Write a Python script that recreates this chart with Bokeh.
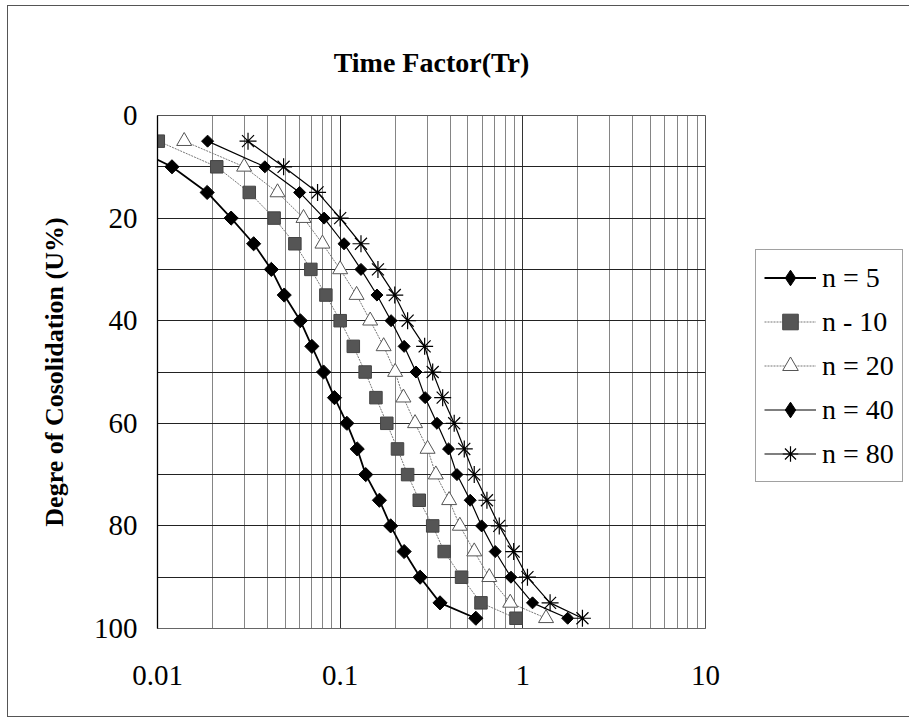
from bokeh.plotting import figure
from bokeh.models import Range1d, FixedTicker, Legend, LegendItem
from bokeh.embed import file_html
from bokeh.resources import INLINE

# ---- data ----
U = [5, 10, 15, 20, 25, 30, 35, 40, 45, 50, 55, 60, 65, 70, 75, 80, 85, 90, 95, 98]
T_n5 = [0.0062, 0.0120, 0.0187, 0.0253, 0.0336, 0.0420, 0.0494, 0.0605, 0.0700, 0.0811,
        0.0931, 0.1088, 0.124, 0.138, 0.164, 0.189, 0.224, 0.274, 0.352, 0.553]
T_n10 = [0.0101, 0.0211, 0.0318, 0.0435, 0.0565, 0.0691, 0.0835, 0.100, 0.118, 0.137,
         0.157, 0.180, 0.206, 0.234, 0.271, 0.321, 0.371, 0.462, 0.590, 0.917]
T_n20 = [0.0140, 0.0298, 0.0454, 0.063, 0.080, 0.100, 0.123, 0.146, 0.173, 0.200,
         0.222, 0.257, 0.301, 0.334, 0.395, 0.452, 0.542, 0.655, 0.853, 1.34]
T_n40 = [0.0188, 0.0387, 0.060, 0.0817, 0.105, 0.130, 0.159, 0.190, 0.224, 0.260,
         0.292, 0.339, 0.392, 0.436, 0.515, 0.595, 0.706, 0.861, 1.13, 1.76]
T_n80 = [0.0313, 0.049, 0.0752, 0.100, 0.130, 0.161, 0.199, 0.234, 0.290, 0.321,
         0.364, 0.421, 0.478, 0.542, 0.636, 0.743, 0.891, 1.06, 1.41, 2.12]
SERIES_LABELS = ["n = 5", "n - 10", "n = 20", "n = 40", "n = 80"]
X_TICKS = [0.01, 0.1, 1, 10]
X_TICK_LABELS = ["0.01", "0.1", "1", "10"]
X_MINOR = [k * d for d in (0.01, 0.1, 1) for k in range(2, 10)]
Y_TICKS = [0, 20, 40, 60, 80, 100]
Y_MINOR = [10, 30, 50, 70, 90]

FONT = "Liberation Serif"
NAN = float("nan")

p = figure(frame_width=548, frame_height=513, x_axis_type="log",
           x_range=Range1d(0.01, 10), y_range=Range1d(100, 0),
           output_backend="svg", toolbar_location=None,
           min_border_left=149, min_border_right=205,
           min_border_top=108, min_border_bottom=88)
p.styles = {"outline": "1px solid #555", "margin-left": "8px", "margin-top": "6px"}

p.title.text = "Time Factor(Tr)"
p.title.align = "center"
p.title.text_font = FONT
p.title.text_font_size = "28px"
p.title.text_font_style = "bold"
p.title.text_color = "black"
p.title.standoff = 76

p.outline_line_color = "#555"
p.background_fill_color = "white"
p.border_fill_color = "white"

# x axis
p.xaxis.ticker = FixedTicker(ticks=X_TICKS, minor_ticks=X_MINOR)
p.xaxis.major_label_overrides = dict(zip(X_TICKS, X_TICK_LABELS))
p.xaxis.major_tick_out = 0
p.xaxis.major_tick_in = 0
p.xaxis.minor_tick_out = 0
p.xaxis.minor_tick_in = 0
p.xaxis.major_label_standoff = 37
p.xaxis.major_label_text_font = FONT
p.xaxis.major_label_text_font_size = "29px"
p.xaxis.major_label_text_color = "black"
p.xaxis.axis_line_color = "#666"

# y axis
p.yaxis.ticker = FixedTicker(ticks=Y_TICKS, minor_ticks=Y_MINOR)
p.yaxis.major_tick_out = 0
p.yaxis.major_tick_in = 0
p.yaxis.minor_tick_out = 0
p.yaxis.minor_tick_in = 0
p.yaxis.major_label_standoff = 20
p.yaxis.major_label_text_font = FONT
p.yaxis.major_label_text_font_size = "29px"
p.yaxis.major_label_text_color = "black"
p.yaxis.axis_line_color = "black"
p.yaxis.axis_line_width = 1.3
p.yaxis.axis_label = "Degre of Cosolidation (U%)"
p.yaxis.axis_label_text_font = FONT
p.yaxis.axis_label_text_font_size = "26px"
p.yaxis.axis_label_text_font_style = "bold"
p.yaxis.axis_label_text_color = "black"
p.yaxis.axis_label_standoff = 22

# grids
p.xgrid.grid_line_color = "#333"
p.xgrid.grid_line_width = 1
p.xgrid.minor_grid_line_color = "#666"
p.xgrid.minor_grid_line_width = 0.8
p.ygrid.grid_line_color = "#222"
p.ygrid.grid_line_width = 1.2
p.ygrid.minor_grid_line_color = "#222"
p.ygrid.minor_grid_line_width = 1.2

items = []

# n = 5
l1 = p.line(T_n5, U, line_color="black", line_width=1.8)
p.scatter(T_n5, U, marker="square", angle=0.785398, size=10,
          fill_color="black", line_color="black")
k1 = p.scatter([NAN], [NAN], marker="diamond", size=16,
               fill_color="black", line_color="black")
items.append(LegendItem(label=SERIES_LABELS[0], renderers=[l1, k1]))

# n = 10
l2 = p.line(T_n10, U, line_color="#777", line_width=1, line_dash="2 1")
m2 = p.scatter(T_n10, U, marker="square", size=12.5,
               fill_color="#555", line_color="#444")
items.append(LegendItem(label=SERIES_LABELS[1], renderers=[l2, m2]))

# n = 20
l3 = p.line(T_n20, U, line_color="#777", line_width=1, line_dash="2 1")
m3 = p.scatter(T_n20, U, marker="triangle", size=15,
               fill_color="white", line_color="#555", line_width=1)
items.append(LegendItem(label=SERIES_LABELS[2], renderers=[l3, m3]))

# n = 40
l4 = p.line(T_n40, U, line_color="black", line_width=1.2)
p.scatter(T_n40, U, marker="square", angle=0.785398, size=8.5,
          fill_color="black", line_color="black")
k4 = p.scatter([NAN], [NAN], marker="diamond", size=14,
               fill_color="black", line_color="black")
items.append(LegendItem(label=SERIES_LABELS[3], renderers=[l4, k4]))

# n = 80
l5 = p.line(T_n80, U, line_color="black", line_width=1.2)
m5 = p.scatter(T_n80, U, marker="asterisk", size=17,
               line_color="black", line_width=1.2)
items.append(LegendItem(label=SERIES_LABELS[4], renderers=[l5, m5]))

legend = Legend(items=items, location=(50, 146), margin=0,
                padding=8, spacing=5, label_standoff=6,
                glyph_width=52, glyph_height=39, label_height=20,
                label_text_font=FONT, label_text_font_size="28px",
                label_text_color="black",
                border_line_color="#444", border_line_width=1,
                background_fill_color="white", background_fill_alpha=1)
p.add_layout(legend, "right")

open("out.html", "w").write(file_html(p, INLINE))
